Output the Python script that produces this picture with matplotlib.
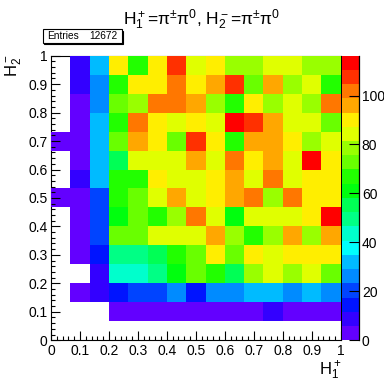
import matplotlib
matplotlib.use('Agg')
import matplotlib.pyplot as plt
import numpy as np
import colorsys
from matplotlib.colors import ListedColormap, Normalize
from matplotlib.patches import Rectangle
from matplotlib.ticker import MultipleLocator, FixedLocator, FixedFormatter

plt.rcParams['font.family'] = ['Liberation Sans', 'DejaVu Sans']
plt.rcParams['mathtext.fontset'] = 'custom'
plt.rcParams['mathtext.rm'] = 'Liberation Sans'
plt.rcParams['mathtext.it'] = 'Liberation Sans:italic'
plt.rcParams['mathtext.bf'] = 'Liberation Sans:bold'

# ---------------- data ----------------
title = r'H$_1^+$=π$^{\pm}$π$^0$, H$_2^-$=π$^{\pm}$π$^0$'
x_title = r'H$_1^+$'
y_title = r'H$_2^-$'
entries_label = 'Entries'
entries_value = '12672'

x_edges = np.linspace(0.0, 1.0, 16)
y_edges = np.linspace(0.0, 1.0, 16)

# bin contents, rows listed from top (H2 ~ 1) to bottom (H2 ~ 0); 0 = empty bin
counts_top_down = [
    [0, 9, 32, 90, 67, 90, 108, 84, 90, 78, 78, 84, 84, 78, 78],
    [0, 9, 26, 67, 90, 90, 102, 90, 96, 108, 73, 96, 78, 84, 67],
    [0, 3, 26, 73, 78, 102, 102, 96, 78, 67, 90, 78, 84, 78, 102],
    [0, 3, 32, 67, 102, 90, 84, 90, 84, 116, 108, 96, 84, 84, 73],
    [3, 3, 32, 73, 96, 90, 73, 108, 90, 67, 96, 96, 90, 78, 84],
    [0, 3, 32, 55, 84, 84, 84, 96, 84, 102, 90, 96, 84, 113, 90],
    [0, 9, 32, 67, 67, 90, 84, 84, 90, 96, 84, 102, 84, 90, 90],
    [3, 3, 20, 67, 73, 84, 96, 84, 90, 96, 102, 78, 102, 90, 90],
    [0, 3, 20, 61, 73, 67, 78, 102, 84, 61, 84, 84, 84, 90, 113],
    [0, 3, 20, 73, 73, 84, 84, 84, 96, 78, 67, 78, 96, 78, 96],
    [0, 3, 15, 49, 49, 55, 67, 73, 90, 73, 90, 84, 90, 90, 90],
    [0, 0, 9, 44, 44, 49, 61, 73, 67, 55, 78, 84, 78, 84, 73],
    [0, 3, 9, 15, 20, 20, 26, 15, 26, 26, 32, 32, 26, 32, 26],
    [0, 0, 0, 3, 3, 3, 3, 3, 3, 3, 3, 9, 3, 3, 3],
    [0, 0, 0, 0, 0, 0, 0, 0, 0, 0, 0, 0, 0, 0, 0],
]

axis_ticks = [0.0, 0.1, 0.2, 0.3, 0.4, 0.5, 0.6, 0.7, 0.8, 0.9, 1.0]
axis_tick_labels = ['0', '0.1', '0.2', '0.3', '0.4', '0.5', '0.6', '0.7', '0.8', '0.9', '1']
z_ticks = [0, 20, 40, 60, 80, 100]
z_tick_labels = ['0', '20', '40', '60', '80', '100']
z_min, z_max = 0.0, 116.3

# ---------------- style: ROOT pretty palette, 20 contours ----------------
n_levels = 20
pal = []
for k in range(n_levels):
    j = int((k + 0.99) * 50 / n_levels)
    hue = 280.0 - (j + 1) * 280.0 / 50
    pal.append(colorsys.hls_to_rgb(hue / 360.0, 0.5, 1.0))
cmap = ListedColormap(pal)
norm = Normalize(vmin=z_min, vmax=z_max)

W, H = 384, 383
fig = plt.figure(figsize=(W / 100, H / 100), dpi=100)

fx0, fx1 = 51 / W, 340.7 / W
fy0, fy1 = 1 - 340.2 / H, 1 - 55.7 / H
ax = fig.add_axes([fx0, fy0, fx1 - fx0, fy1 - fy0])

counts = np.array(counts_top_down, dtype=float)[::-1]
mesh = ax.pcolormesh(x_edges, y_edges, np.ma.masked_equal(counts, 0),
                     cmap=cmap, norm=norm, zorder=1)
ax.set_xlim(0, 1)
ax.set_ylim(0, 1)
for s in ax.spines.values():
    s.set_zorder(0.5)
    s.set_linewidth(0.8)

ax.xaxis.set_major_locator(FixedLocator(axis_ticks))
ax.xaxis.set_major_formatter(FixedFormatter(axis_tick_labels))
ax.yaxis.set_major_locator(FixedLocator(axis_ticks))
ax.yaxis.set_major_formatter(FixedFormatter(axis_tick_labels))
ax.xaxis.set_minor_locator(MultipleLocator(0.02))
ax.yaxis.set_minor_locator(MultipleLocator(0.02))
ax.tick_params(which='both', direction='in', top=False, right=False, width=0.8,
               labelsize=10, colors='black')
ax.tick_params(which='major', length=6.3, pad=2.5)
ax.tick_params(which='minor', length=3.2)

# colour bar
cax = fig.add_axes([341.5 / W, fy0, 17.5 / W, fy1 - fy0])
cb = fig.colorbar(mesh, cax=cax)
cb.outline.set_visible(False)
cb.set_ticks(z_ticks)
cb.set_ticklabels(z_tick_labels)
cax.minorticks_off()
cax.tick_params(direction='in', length=7, width=0.8, labelsize=10, pad=2)
cax.plot([1, 1], [0, 1], transform=cax.transAxes, color='black', lw=0.9,
         clip_on=False)

# titles
fig.text(201.5 / W, 1 - 24.5 / H, title, ha='center', va='baseline',
         fontsize=12.5)
fig.text(341 / W, 1 - 371 / H, x_title, ha='right', va='center', fontsize=12)
fig.text(14 / W, 1 - 55 / H, y_title, ha='center', va='top', rotation=90,
         fontsize=12)

# stats box
bx0, by0, bw, bh = 43, 29.5, 78.5, 13
fig.patches.append(Rectangle(((bx0 + 1) / W, 1 - (by0 + bh + 1) / H), bw / W, bh / H,
                             transform=fig.transFigure, facecolor='black',
                             edgecolor='black', lw=0.8))
fig.patches.append(Rectangle((bx0 / W, 1 - (by0 + bh) / H), bw / W, bh / H,
                             transform=fig.transFigure, facecolor='white',
                             edgecolor='black', lw=0.8))
fig.text((bx0 + 4) / W, 1 - (by0 + bh / 2) / H, entries_label, ha='left',
         va='center', fontsize=7.3)
fig.text((bx0 + bw - 4) / W, 1 - (by0 + bh / 2) / H, entries_value, ha='right',
         va='center', fontsize=7.3)

fig.savefig('out.png', dpi=100)
